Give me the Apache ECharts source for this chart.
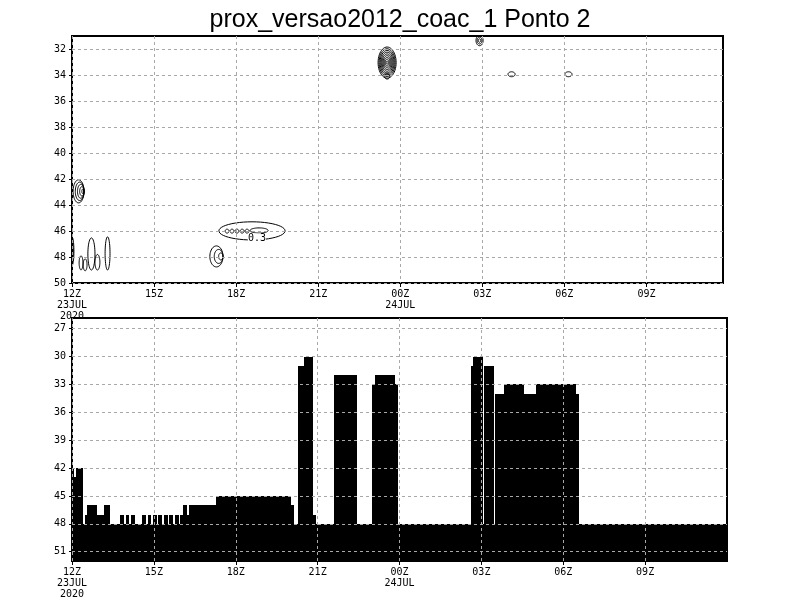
<!DOCTYPE html>
<html><head><meta charset="utf-8">
<script src="https://cdn.jsdelivr.net/npm/echarts@6/dist/echarts.min.js"></script>
<style>html,body{margin:0;padding:0;background:#fff}#c{width:800px;height:600px}</style>
</head><body><div id="c"></div>
<script>
const titleText = 'prox_versao2012_coac_1 Ponto 2';

// time axis (hours after 12Z 23JUL2020)
const xTickHours = [0, 3, 6, 9, 12, 15, 18, 21];
const xTickLabels = ['12Z', '15Z', '18Z', '21Z', '00Z', '03Z', '06Z', '09Z'];
const xTickDates = ['23JUL\n2020', '', '', '', '24JUL', '', '', ''];
const topLevelTicks = [32, 34, 36, 38, 40, 42, 44, 46, 48, 50];
const bottomLevelTicks = [27, 30, 33, 36, 39, 42, 45, 48, 51];

// bottom panel: step values (level held from each start hour until the next)
const stepStartHour = [0, 0.08, 0.15, 0.40, 0.48, 0.55, 0.92, 1.17, 1.39, 1.76,
  1.90, 1.98, 2.09, 2.16, 2.31, 2.56, 2.71, 2.78, 2.89, 2.97,
  3.11, 3.15, 3.30, 3.37, 3.52, 3.55, 3.70, 3.77, 3.92, 3.96,
  4.07, 4.21, 4.29, 5.27, 8.02, 8.13, 8.28, 8.50, 8.83, 8.94,
  9.60, 10.44, 10.99, 11.10, 11.83, 11.94, 14.62, 14.69, 15.05, 15.09,
  15.46, 15.49, 15.82, 16.56, 17.00, 18.46, 18.57];
const stepLevel = [42, 43, 42, 48, 47, 46, 47, 46, 48, 47,
  48, 47, 48, 47, 48, 47, 48, 47, 48, 47,
  48, 47, 48, 47, 48, 47, 48, 47, 48, 47,
  46, 47, 46, 45, 46, 48, 31, 30, 47, 48,
  32, 48, 33, 32, 33, 48, 31, 30, 48, 31,
  48, 34, 33, 34, 33, 34, 48];
const stepEndHour = 24;

// top panel: contour features (centre hour, centre level, half-width h, half-height levels, rings, anchor)
const blobHour  = [0.24, 0.00, 0.71, 1.30, 0.33, 0.48, 0.93, 5.28, 6.58, 5.67, 5.85, 6.03, 6.22, 6.40, 6.84, 11.52, 11.52, 14.90, 16.07, 18.15];
const blobLevel = [42.93, 47.55, 47.76, 47.72, 48.45, 48.60, 48.40, 47.95, 45.98, 46.0, 46.0, 46.0, 46.0, 46.0, 45.95, 33.0, 34.05, 31.3, 33.9, 33.9];
const blobRx    = [0.20, 0.07, 0.13, 0.09, 0.07, 0.07, 0.09, 0.24, 1.21, 0.07, 0.07, 0.07, 0.07, 0.07, 0.33, 0.33, 0.10, 0.13, 0.13, 0.13];
const blobRy    = [0.89, 1.10, 1.24, 1.28, 0.54, 0.46, 0.60, 0.81, 0.70, 0.15, 0.15, 0.15, 0.15, 0.15, 0.20, 1.20, 0.22, 0.40, 0.19, 0.19];
const blobRings = [5, 3, 1, 1, 1, 1, 1, 3, 1, 1, 1, 1, 1, 1, 1, 9, 1, 3, 1, 1];
const blobAnchor = [1, 0, 0, 0, 0, 0, 0, 1, 0, 0, 0, 0, 0, 0, 0, 0, 0, 0, 0, 0];
const contourLabelHour = [6.76];
const contourLabelLevel = [46.56];
const contourLabelText = ['0.3'];

const topMin = 30.95, topMax = 50, topXMax = 23.8;
const botMin = 25.85, botMax = 52, botXMax = 24;

const monoFont = 'DejaVu Sans Mono';
const gridLine = { show: true, lineStyle: { color: '#a8a8a8', type: [3, 3], width: 1 } };

function xAxisFor(gi, max) {
  return {
    type: 'value', gridIndex: gi, min: 0, max: max, interval: 3, z: 10,
    axisLine: { show: false },
    axisTick: { show: true, length: 4, customValues: xTickHours, lineStyle: { color: '#000', width: 1 } },
    axisLabel: {
      customValues: xTickHours, margin: 6, color: '#000', fontFamily: monoFont, fontSize: 10, lineHeight: 11,
      formatter: function (v) {
        const i = xTickHours.indexOf(v);
        if (i < 0) return '';
        return xTickDates[i] ? xTickLabels[i] + '\n' + xTickDates[i] : xTickLabels[i];
      }
    },
    splitLine: gridLine
  };
}
function yAxisFor(gi, min, max, ticks) {
  return {
    type: 'value', gridIndex: gi, min: min, max: max, inverse: true, z: 10,
    axisLine: { show: false },
    axisTick: { show: true, length: 3, customValues: ticks, lineStyle: { color: '#000', width: 1 } },
    axisLabel: { customValues: ticks, margin: 6, color: '#000', fontFamily: monoFont, fontSize: 10 },
    splitLine: gridLine
  };
}

const stepData = stepStartHour.map((s, i) => [s, i + 1 < stepStartHour.length ? stepStartHour[i + 1] : stepEndHour, stepLevel[i]]);
const blobData = blobHour.map((h, i) => [h, blobLevel[i], blobRx[i], blobRy[i], blobRings[i], blobAnchor[i]]);
const labelData = contourLabelHour.map((h, i) => [h, contourLabelLevel[i], i]);

const chart = echarts.init(document.getElementById('c'));
chart.setOption({
  animation: false,
  backgroundColor: '#fff',
  title: {
    text: titleText, left: 'center', top: 3,
    textStyle: { fontFamily: 'Liberation Sans', fontSize: 25, fontWeight: 'normal', color: '#000' }
  },
  grid: [
    { left: 72, top: 36, width: 651, height: 247, show: true, borderColor: '#000', borderWidth: 2, backgroundColor: '#fff' },
    { left: 72, top: 318, width: 655, height: 247, show: true, borderColor: '#000', borderWidth: 2, backgroundColor: '#fff' }
  ],
  xAxis: [xAxisFor(0, topXMax), xAxisFor(1, botXMax)],
  yAxis: [yAxisFor(0, topMin, topMax, topLevelTicks), yAxisFor(1, botMin, botMax, bottomLevelTicks)],
  series: [
    {
      type: 'custom', xAxisIndex: 0, yAxisIndex: 0, clip: true, z: 3,
      data: blobData, encode: { x: 0, y: 1 },
      renderItem: function (params, api) {
        const h = api.value(0), L = api.value(1), rx = api.value(2), ry = api.value(3), n = api.value(4), al = api.value(5);
        const children = [];
        for (let k = 1; k <= n; k++) {
          const s = k / n;
          const c = api.coord([h + al * rx * (1 - s), L]);
          const sz = api.size([rx * s, ry * s]);
          const ax = Math.abs(sz[0]), ay = Math.abs(sz[1]);
          const pts = [];
          for (let j = 0; j < 48; j++) {
            const a = j / 48 * 2 * Math.PI;
            pts.push([c[0] + ax * Math.cos(a), c[1] + ay * Math.sin(a)]);
          }
          children.push({ type: 'polygon', shape: { points: pts }, style: { fill: 'none', stroke: '#000', lineWidth: 1 } });
        }
        return { type: 'group', children: children };
      }
    },
    {
      type: 'custom', xAxisIndex: 0, yAxisIndex: 0, clip: true, z: 4,
      data: labelData, encode: { x: 0, y: 1 },
      renderItem: function (params, api) {
        const p = api.coord([api.value(0), api.value(1)]);
        return { type: 'text', x: p[0], y: p[1], style: { text: contourLabelText[api.value(2)], fill: '#000', font: '10px ' + monoFont, align: 'center', verticalAlign: 'middle', backgroundColor: '#fff' } };
      }
    },
    {
      type: 'custom', xAxisIndex: 1, yAxisIndex: 1, clip: true, z: 2,
      data: stepData, encode: { x: [0, 1], y: 2 },
      renderItem: function (params, api) {
        const p0 = api.coord([api.value(0), api.value(2)]);
        const p1 = api.coord([api.value(1), botMax]);
        const x0 = Math.round(p0[0]), x1 = Math.round(p1[0]);
        const y0 = Math.round(p0[1]), y1 = Math.round(p1[1]);
        return { type: 'rect', shape: { x: x0, y: y0, width: x1 - x0, height: y1 - y0 }, style: { fill: '#000' } };
      }
    }
  ]
});
</script>
</body></html>
